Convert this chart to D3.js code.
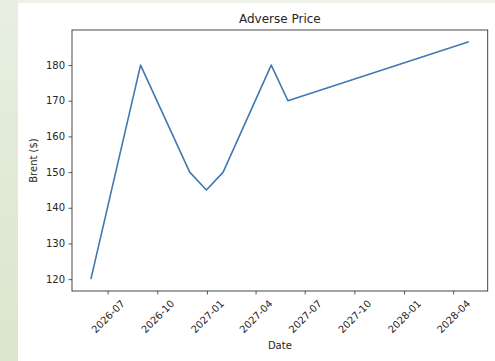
<!DOCTYPE html>
<html>
<head>
<meta charset="utf-8">
<script src="https://cdn.jsdelivr.net/npm/d3@7"></script>
<style>
  html, body { margin: 0; padding: 0; background: #ffffff; }
  svg { display: block; }
  text { font-family: "DejaVu Sans", sans-serif; fill: #262626; }
</style>
</head>
<body>
<svg id="chart" width="495" height="361"></svg>
<script>
// Brent price path under the adverse scenario
const dates = ["2026-05-31", "2026-08-31", "2026-11-30", "2026-12-31",
               "2027-01-31", "2027-04-30", "2027-05-31", "2028-04-30"];
const prices = [120, 180, 150, 145, 150, 180, 170, 186.5];
const yTicks = [120, 130, 140, 150, 160, 170, 180];
const xTicks = ["2026-07", "2026-10", "2027-01", "2027-04",
                "2027-07", "2027-10", "2028-01", "2028-04"];

const parse = d3.utcParse("%Y-%m-%d");
const parseMonth = d3.utcParse("%Y-%m");
const data = dates.map((d, i) => ({ date: parse(d), value: prices[i] }));

const svg = d3.select("#chart");

// page backdrop
const defs = svg.append("defs");
const grad = defs.append("linearGradient").attr("id", "side")
  .attr("x1", 0).attr("y1", 0).attr("x2", 0).attr("y2", 1);
grad.append("stop").attr("offset", "0%").attr("stop-color", "#e8efe2");
grad.append("stop").attr("offset", "100%").attr("stop-color", "#d9e6cc");
svg.append("rect").attr("x", 0).attr("y", 0).attr("width", 18).attr("height", 361)
  .attr("fill", "url(#side)");
svg.append("rect").attr("x", 18).attr("y", 0).attr("width", 477).attr("height", 3)
  .attr("fill", "#eef3ea");

const plot = { left: 72, right: 487.7, top: 30, bottom: 291 };

// 5% padding on both axes
const [x0, x1] = d3.extent(data, d => d.date);
const xPad = (x1 - x0) * 0.05;
const x = d3.scaleUtc()
  .domain([new Date(+x0 - xPad), new Date(+x1 + xPad)])
  .range([plot.left, plot.right]);

const [y0, y1] = d3.extent(data, d => d.value);
const yPad = (y1 - y0) * 0.05;
const y = d3.scaleLinear()
  .domain([y0 - yPad, y1 + yPad])
  .range([plot.bottom, plot.top]);

// y axis
const yAxis = svg.append("g")
  .attr("transform", `translate(${plot.left},0)`)
  .call(d3.axisLeft(y).tickValues(yTicks).tickSize(3.5).tickPadding(3.5)
    .tickFormat(d3.format("d")));
yAxis.select(".domain").remove();
yAxis.selectAll(".tick line").attr("stroke", "#333").attr("stroke-width", 0.8);
yAxis.selectAll(".tick text").attr("font-size", 10)
  .attr("font-family", "DejaVu Sans, sans-serif").attr("fill", "#262626");

// x axis
const xAxis = svg.append("g")
  .attr("transform", `translate(0,${plot.bottom})`)
  .call(d3.axisBottom(x).tickValues(xTicks.map(parseMonth)).tickSize(3.5)
    .tickFormat(d3.utcFormat("%Y-%m")));
xAxis.select(".domain").remove();
xAxis.selectAll(".tick line").attr("stroke", "#333").attr("stroke-width", 0.8);
xAxis.selectAll(".tick text")
  .attr("font-size", 10)
  .attr("font-family", "DejaVu Sans, sans-serif")
  .attr("fill", "#262626")
  .attr("y", 0).attr("dy", null)
  .attr("text-anchor", "middle")
  .attr("dominant-baseline", "central")
  .attr("transform", "translate(0,25.5) rotate(-45)");

// frame
svg.append("rect")
  .attr("x", plot.left).attr("y", plot.top)
  .attr("width", plot.right - plot.left).attr("height", plot.bottom - plot.top)
  .attr("fill", "none").attr("stroke", "#333").attr("stroke-width", 0.9);

// price line
const line = d3.line().x(d => x(d.date)).y(d => y(d.value));
svg.append("path").datum(data)
  .attr("d", line)
  .attr("fill", "none")
  .attr("stroke", "#3f78b2")
  .attr("stroke-width", 1.6)
  .attr("stroke-linejoin", "round");

// labels
svg.append("text")
  .attr("x", (plot.left + plot.right) / 2).attr("y", 23)
  .attr("text-anchor", "middle").attr("font-size", 12)
  .text("Adverse Price");

svg.append("text")
  .attr("x", (plot.left + plot.right) / 2).attr("y", 349)
  .attr("text-anchor", "middle").attr("font-size", 10)
  .text("Date");

svg.append("text")
  .attr("transform", `translate(37,${(plot.top + plot.bottom) / 2}) rotate(-90)`)
  .attr("text-anchor", "middle").attr("font-size", 10)
  .text("Brent ($)");
</script>
</body>
</html>
